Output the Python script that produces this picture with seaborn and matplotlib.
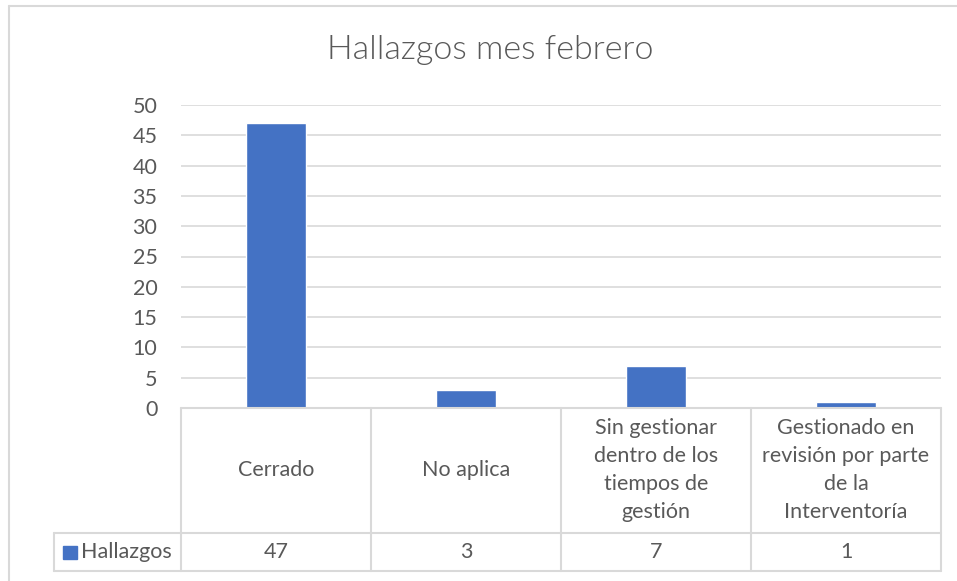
import matplotlib
matplotlib.use("Agg")
import matplotlib.pyplot as plt
import seaborn as sns
import pandas as pd
from matplotlib.lines import Line2D
from matplotlib.patches import Rectangle

categories = ["Cerrado", "No aplica",
              "Sin gestionar\ndentro de los\ntiempos de\ngestión",
              "Gestionado en\nrevisión por parte\nde la\nInterventoría"]
values = [47, 3, 7, 1]
series_name = "Hallazgos"
title = "Hallazgos mes febrero"
yticks = [0, 5, 10, 15, 20, 25, 30, 35, 40, 45, 50]

sns.set_theme(style="white")
plt.rcParams['font.family'] = ['Lato', 'DejaVu Sans']

W, H = 957, 581
fig = plt.figure(figsize=(W / 100, H / 100), dpi=100)

def fx(x):
    return x / W

def fy(y):
    return 1 - y / H

TXT = "#595959"
GRID = "#d9d9d9"
BLUE = "#4472c4"
FS = 15.5

x0, x1 = 181, 941
ytop, ybot = 105, 408
ax = fig.add_axes([fx(x0), fy(ybot), fx(x1) - fx(x0), fy(ytop) - fy(ybot)])
df = pd.DataFrame({"cat": [str(i) for i in range(len(categories))], "val": values})
sns.barplot(data=df, x="cat", y="val", color=BLUE, saturation=1, width=0.316, ax=ax)
ax.set_xlim(-0.5, len(categories) - 0.5)
ax.set_ylim(0, 50)
ax.set_yticks(yticks)
ax.set_yticklabels([str(t) for t in yticks], color=TXT, fontsize=FS)
ax.set_xticks([])
ax.set_xlabel("")
ax.set_ylabel("")
ax.tick_params(axis="y", length=0, pad=17)
for s in ax.spines.values():
    s.set_visible(False)
ax.yaxis.grid(True, color=GRID, linewidth=1.2)
ax.set_axisbelow(True)

# title
fig.text(fx(490), fy(50), title, ha="center", va="center", fontsize=24.5, color=TXT,
         fontweight=300)

# outer chart border (left and top)
fig.add_artist(Line2D([fx(9), fx(9)], [fy(6), fy(H)], color=GRID, lw=1.5))
fig.add_artist(Line2D([fx(9), fx(W)], [fy(6), fy(6)], color=GRID, lw=1.5))

# data table
col_edges = [181, 371, 561, 751, 941]
row_top, row_mid, row_bot = 408, 533, 571
leg_left = 54
lw = 1.5
fig.add_artist(Line2D([fx(181), fx(941)], [fy(row_top), fy(row_top)], color=GRID, lw=lw))
fig.add_artist(Line2D([fx(leg_left), fx(941)], [fy(row_mid), fy(row_mid)], color=GRID, lw=lw))
fig.add_artist(Line2D([fx(leg_left), fx(941)], [fy(row_bot), fy(row_bot)], color=GRID, lw=lw))
for xe in col_edges:
    fig.add_artist(Line2D([fx(xe), fx(xe)], [fy(row_top), fy(row_bot)], color=GRID, lw=lw))
fig.add_artist(Line2D([fx(leg_left), fx(leg_left)], [fy(row_mid), fy(row_bot)], color=GRID, lw=lw))

for i, (c, v) in enumerate(zip(categories, values)):
    cx = (col_edges[i] + col_edges[i + 1]) / 2
    fig.text(fx(cx), fy((row_top + row_mid) / 2 - 1), c, ha="center", va="center",
             fontsize=FS, color=TXT, linespacing=1.5)
    fig.text(fx(cx), fy((row_mid + row_bot) / 2), str(v), ha="center", va="center",
             fontsize=FS, color=TXT)

fig.add_artist(Rectangle((fx(63), fy(559)), fx(14), fy(546) - fy(559), color=BLUE))
fig.text(fx(81), fy((row_mid + row_bot) / 2), series_name, ha="left", va="center",
         fontsize=FS, color=TXT)

fig.savefig("out.png", dpi=100)
